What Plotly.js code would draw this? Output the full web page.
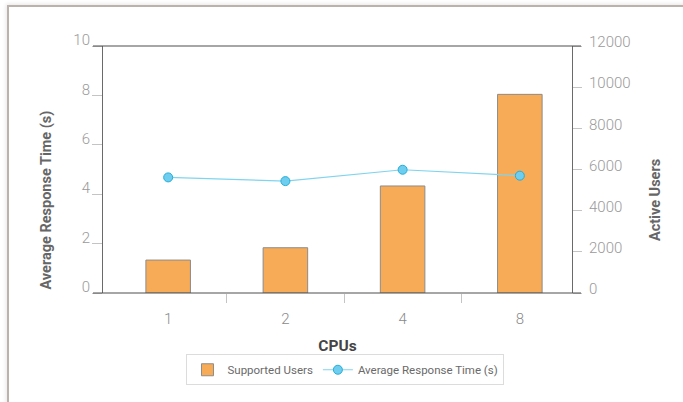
<!DOCTYPE html>
<html>
<head>
<meta charset="utf-8">
<script src="https://cdn.plot.ly/plotly-3.0.1.min.js"></script>
<style>
  html, body { margin: 0; padding: 0; background: #ffffff; overflow: hidden; }
  #frame {
    position: absolute; left: 7px; top: 5px; width: 700px; height: 420px;
    border-left: 2px solid #bdb2ab; border-top: 2px solid #bdb2ab;
    box-shadow: -1px -1px 4px rgba(0,0,0,0.10);
  }
  #chart { position: absolute; left: 0; top: 0; width: 683px; height: 402px; }
</style>
</head>
<body>
<div id="frame"></div>
<div id="chart"></div>
<script>
// CPU scaling: supported users (bars, right axis) and average response time (line, left axis)
const categories = ['1', '2', '4', '8'];
const supportedUsers = [1600, 2200, 5200, 9650];
const avgResponseTime = [4.68, 4.53, 4.99, 4.75];
const responseTicks = [0, 2, 4, 6, 8, 10];
const userTicks = [0, 2000, 4000, 6000, 8000, 10000, 12000];
const categoryBoundaries = [0.5, 1.5, 2.5];

const tickFamily = 'Roboto, "Open Sans", sans-serif';
const titleFamily = 'Roboto, "Open Sans", sans-serif';
const xRange = [-0.556, 3.445];

const bars = {
  type: 'bar',
  name: 'Supported Users',
  x: categories,
  y: supportedUsers,
  yaxis: 'y',
  width: 0.38,
  marker: { color: '#f7ab56', line: { color: '#8c8c8c', width: 1 } },
  hoverinfo: 'skip'
};

const line = {
  type: 'scatter',
  mode: 'lines+markers',
  name: 'Average Response Time (s)',
  x: categories,
  y: avgResponseTime,
  yaxis: 'y2',
  line: { color: '#80d4ef', width: 1.2 },
  marker: { size: 9, color: '#6fcdf0', line: { color: '#22afd8', width: 1 } },
  hoverinfo: 'skip'
};

// carrier for the boundary tick marks between categories
const boundaryAxis = {
  type: 'scatter', mode: 'markers', x: [], y: [], xaxis: 'x2', yaxis: 'y',
  showlegend: false, hoverinfo: 'skip'
};

const plotW = 683 - 103 - 111;
const tickFont = { family: tickFamily, size: 15, color: '#9a9a9a', weight: 300 };

const layout = {
  width: 683, height: 402,
  margin: { l: 103, r: 111, t: 46, b: 108.5, pad: 0 },
  paper_bgcolor: 'rgba(0,0,0,0)',
  plot_bgcolor: 'rgba(0,0,0,0)',
  font: { family: tickFamily, color: '#9a9a9a', size: 15 },
  xaxis: {
    type: 'category', range: xRange, fixedrange: true,
    showline: false, showgrid: false, zeroline: false, ticks: '',
    tickfont: { family: tickFamily, size: 15, color: '#8a8a8a', weight: 300 },
    ticklabelstandoff: 15,
    title: { text: 'CPUs', font: { family: titleFamily, size: 15.5, color: '#444444', weight: 'bold' }, standoff: 13 }
  },
  xaxis2: {
    overlaying: 'x', anchor: 'y', side: 'bottom', type: 'linear', range: xRange,
    tickmode: 'array', tickvals: categoryBoundaries, ticks: 'outside', ticklen: 9,
    tickcolor: '#c4c4c4', tickwidth: 1, showticklabels: false,
    showline: false, showgrid: false, zeroline: false, fixedrange: true
  },
  yaxis: {
    side: 'right', range: [0, 12000], fixedrange: true,
    tickmode: 'array', tickvals: userTicks, tickformat: 'd', ticks: 'outside', ticklen: 9,
    tickcolor: '#c4c4c4', tickwidth: 1,
    showline: true, linecolor: '#6a6a6a', linewidth: 1,
    showgrid: false, zeroline: false,
    ticklabelshift: -4, ticklabelstandoff: 4,
    tickfont: tickFont
  },
  yaxis2: {
    side: 'left', overlaying: 'y', range: [0, 10], fixedrange: true,
    tickmode: 'array', tickvals: responseTicks, ticks: 'outside', ticklen: 10,
    tickcolor: '#c4c4c4', tickwidth: 1,
    showline: true, linecolor: '#6a6a6a', linewidth: 1,
    showgrid: false, zeroline: false,
    ticklabelshift: -6, ticklabelstandoff: -1,
    tickfont: tickFont
  },
  shapes: [
    { type: 'line', xref: 'paper', yref: 'paper', x0: -10 / plotW, x1: 1 + 9 / plotW, y0: 1, y1: 1,
      line: { color: '#4e4e4e', width: 1.2 } },
    { type: 'line', xref: 'paper', yref: 'paper', x0: -10 / plotW, x1: 1 + 9 / plotW, y0: 0, y1: 0,
      line: { color: '#4e4e4e', width: 1.2 } }
  ],
  annotations: [
    { text: 'Average Response Time (s)', xref: 'paper', yref: 'paper', x: -0.1195, y: 0.378,
      textangle: -90, showarrow: false, xanchor: 'center', yanchor: 'middle',
      font: { family: titleFamily, size: 14.5, color: '#666666', weight: 'bold' } },
    { text: 'Active Users', xref: 'paper', yref: 'paper', x: 1.178, y: 0.378,
      textangle: -90, showarrow: false, xanchor: 'center', yanchor: 'middle',
      font: { family: titleFamily, size: 14.5, color: '#666666', weight: 'bold' } }
  ],
  showlegend: true,
  legend: {
    orientation: 'h', x: 0.517, xanchor: 'center', y: -0.248, yanchor: 'top',
    bordercolor: '#dcdcdc', borderwidth: 1, bgcolor: '#ffffff',
    font: { family: tickFamily, size: 11.5, color: '#6a6a6a' },
    traceorder: 'normal'
  }
};

Plotly.newPlot('chart', [bars, boundaryAxis, line], layout, { displayModeBar: false, staticPlot: true });
</script>
</body>
</html>
